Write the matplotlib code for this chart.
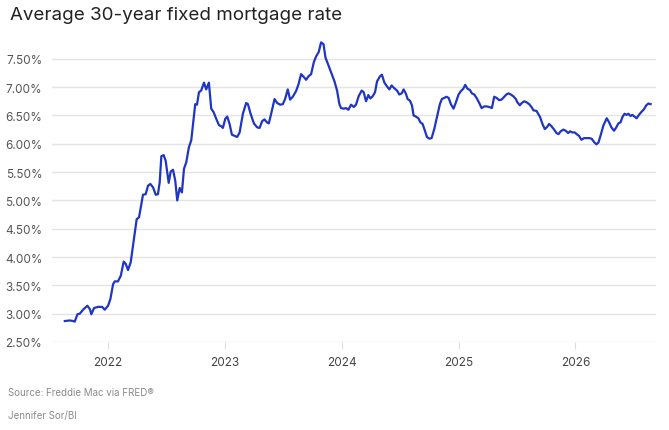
import numpy as np
import matplotlib.pyplot as plt

# weekly-ish readings taken off the chart (decimal year, rate %)
years = [2021.630, 2021.673, 2021.701, 2021.715, 2021.738, 2021.758, 2021.786, 2021.823, 2021.844, 2021.857,
         2021.880, 2021.915, 2021.949, 2021.972, 2022.000, 2022.020, 2022.043, 2022.057, 2022.085, 2022.109,
         2022.134, 2022.151, 2022.171, 2022.194, 2022.222, 2022.245, 2022.265, 2022.299, 2022.322, 2022.342,
         2022.362, 2022.385, 2022.408, 2022.427, 2022.442, 2022.456, 2022.476, 2022.493, 2022.519, 2022.536,
         2022.556, 2022.575, 2022.592, 2022.613, 2022.632, 2022.650, 2022.669, 2022.692, 2022.712, 2022.726,
         2022.746, 2022.761, 2022.778, 2022.797, 2022.821, 2022.840, 2022.863, 2022.883, 2022.903, 2022.926,
         2022.949, 2022.968, 2022.983, 2023.003, 2023.020, 2023.040, 2023.060, 2023.083, 2023.105, 2023.126,
         2023.154, 2023.182, 2023.197, 2023.220, 2023.248, 2023.276, 2023.297, 2023.319, 2023.339, 2023.359,
         2023.376, 2023.396, 2023.425, 2023.447, 2023.473, 2023.496, 2023.515, 2023.538, 2023.558, 2023.581,
         2023.609, 2023.630, 2023.652, 2023.675, 2023.695, 2023.715, 2023.738, 2023.761, 2023.780, 2023.803,
         2023.823, 2023.844, 2023.861, 2023.880, 2023.909, 2023.938, 2023.960, 2023.980, 2023.994, 2024.017,
         2024.037, 2024.057, 2024.080, 2024.103, 2024.122, 2024.145, 2024.171, 2024.188, 2024.208, 2024.228,
         2024.245, 2024.265, 2024.285, 2024.302, 2024.327, 2024.344, 2024.365, 2024.385, 2024.408, 2024.427,
         2024.450, 2024.473, 2024.493, 2024.513, 2024.530, 2024.550, 2024.564, 2024.584, 2024.601, 2024.615,
         2024.635, 2024.656, 2024.673, 2024.692, 2024.712, 2024.729, 2024.750, 2024.769, 2024.792, 2024.821,
         2024.840, 2024.857, 2024.878, 2024.897, 2024.915, 2024.934, 2024.957, 2024.977, 2025.000, 2025.020,
         2025.040, 2025.057, 2025.077, 2025.097, 2025.114, 2025.134, 2025.154, 2025.177, 2025.197, 2025.220,
         2025.239, 2025.262, 2025.285, 2025.305, 2025.325, 2025.348, 2025.368, 2025.391, 2025.409, 2025.427,
         2025.447, 2025.468, 2025.490, 2025.504, 2025.524, 2025.541, 2025.562, 2025.584, 2025.604, 2025.624,
         2025.641, 2025.667, 2025.698, 2025.718, 2025.738, 2025.755, 2025.775, 2025.795, 2025.818, 2025.838,
         2025.855, 2025.874, 2025.897, 2025.917, 2025.938, 2025.955, 2025.974, 2025.994, 2026.011, 2026.031,
         2026.051, 2026.074, 2026.097, 2026.117, 2026.139, 2026.160, 2026.179, 2026.197, 2026.216, 2026.239,
         2026.268, 2026.288, 2026.308, 2026.331, 2026.350, 2026.368, 2026.387, 2026.402, 2026.421, 2026.438,
         2026.453, 2026.472, 2026.487, 2026.506, 2026.524, 2026.544, 2026.564, 2026.587, 2026.607, 2026.624,
         2026.644]

rates = [2.87, 2.88, 2.87, 2.86, 2.99, 3.00, 3.07, 3.14, 3.08, 2.99,
         3.10, 3.12, 3.12, 3.07, 3.14, 3.26, 3.52, 3.57, 3.57, 3.67,
         3.92, 3.88, 3.77, 3.91, 4.32, 4.67, 4.70, 5.10, 5.11, 5.26,
         5.29, 5.23, 5.10, 5.11, 5.32, 5.78, 5.80, 5.70, 5.31, 5.51,
         5.54, 5.35, 5.00, 5.22, 5.14, 5.56, 5.67, 5.94, 6.06, 6.32,
         6.70, 6.69, 6.91, 6.94, 7.08, 6.96, 7.08, 6.62, 6.56, 6.44,
         6.33, 6.31, 6.28, 6.44, 6.48, 6.35, 6.16, 6.14, 6.12, 6.20,
         6.53, 6.72, 6.70, 6.53, 6.36, 6.29, 6.28, 6.40, 6.43, 6.38,
         6.36, 6.53, 6.79, 6.72, 6.69, 6.70, 6.79, 6.96, 6.78, 6.83,
         6.93, 7.05, 7.23, 7.18, 7.13, 7.19, 7.23, 7.44, 7.54, 7.62,
         7.79, 7.76, 7.52, 7.42, 7.26, 7.10, 6.94, 6.70, 6.63, 6.62,
         6.63, 6.60, 6.69, 6.65, 6.69, 6.84, 6.94, 6.91, 6.75, 6.86,
         6.80, 6.84, 6.91, 7.10, 7.19, 7.22, 7.08, 7.02, 6.96, 7.03,
         6.98, 6.94, 6.87, 6.89, 6.96, 6.88, 6.79, 6.76, 6.68, 6.50,
         6.48, 6.45, 6.38, 6.35, 6.23, 6.12, 6.09, 6.10, 6.26, 6.53,
         6.70, 6.79, 6.81, 6.83, 6.81, 6.70, 6.62, 6.73, 6.87, 6.93,
         6.97, 7.04, 6.97, 6.95, 6.89, 6.87, 6.81, 6.72, 6.63, 6.66,
         6.66, 6.65, 6.63, 6.83, 6.81, 6.77, 6.78, 6.83, 6.87, 6.89,
         6.87, 6.84, 6.79, 6.73, 6.68, 6.72, 6.75, 6.73, 6.70, 6.65,
         6.59, 6.58, 6.47, 6.35, 6.26, 6.29, 6.35, 6.31, 6.25, 6.19,
         6.17, 6.22, 6.25, 6.23, 6.19, 6.22, 6.20, 6.20, 6.17, 6.14,
         6.07, 6.10, 6.10, 6.10, 6.09, 6.03, 5.99, 6.02, 6.15, 6.32,
         6.45, 6.38, 6.29, 6.23, 6.29, 6.36, 6.38, 6.47, 6.53, 6.51,
         6.53, 6.49, 6.51, 6.48, 6.45, 6.51, 6.56, 6.61, 6.68, 6.71,
         6.70]

year_ticks = [2022, 2023, 2024, 2025, 2026]
rate_ticks = [2.5, 3.0, 3.5, 4.0, 4.5, 5.0, 5.5, 6.0, 6.5, 7.0, 7.5]

plt.rcParams['font.family'] = ['Inter', 'DejaVu Sans']

fig = plt.figure(figsize=(6.69, 4.31), dpi=100)
ax = fig.add_axes([0.0777, 0.2042, 0.9029, 0.703])

ax.plot(np.array(years), np.array(rates), color='#1f35c4', linewidth=1.6,
        solid_joinstyle='round', zorder=3)

ax.set_ylim(2.5, 7.85)
ax.set_xlim(2021.52, 2026.69)
ax.set_yticks(rate_ticks)
ax.set_yticklabels(['%.2f%%' % r for r in rate_ticks])
ax.set_xticks(year_ticks)
ax.set_xticklabels([str(y) for y in year_ticks])

ax.grid(axis='y', color='#e4e4e4', linewidth=1)
ax.set_axisbelow(True)
for s in ax.spines.values():
    s.set_visible(False)

ax.tick_params(axis='y', length=0, pad=7, labelsize=8.5, labelcolor='#555555')
ax.tick_params(axis='x', length=5, width=0.8, color='#dddddd', pad=5,
               labelsize=8.5, labelcolor='#444444')

fig.text(0.015, 0.965, 'Average 30-year fixed mortgage rate', fontsize=13.5,
         color='#222222', va='center', ha='left')
fig.text(0.012, 0.088, 'Source: Freddie Mac via FRED\u00ae', fontsize=7,
         color='#8a8a8a', va='center', ha='left')
fig.text(0.012, 0.035, 'Jennifer Sor/BI', fontsize=7,
         color='#8a8a8a', va='center', ha='left')

fig.savefig('out.png', dpi=100)
